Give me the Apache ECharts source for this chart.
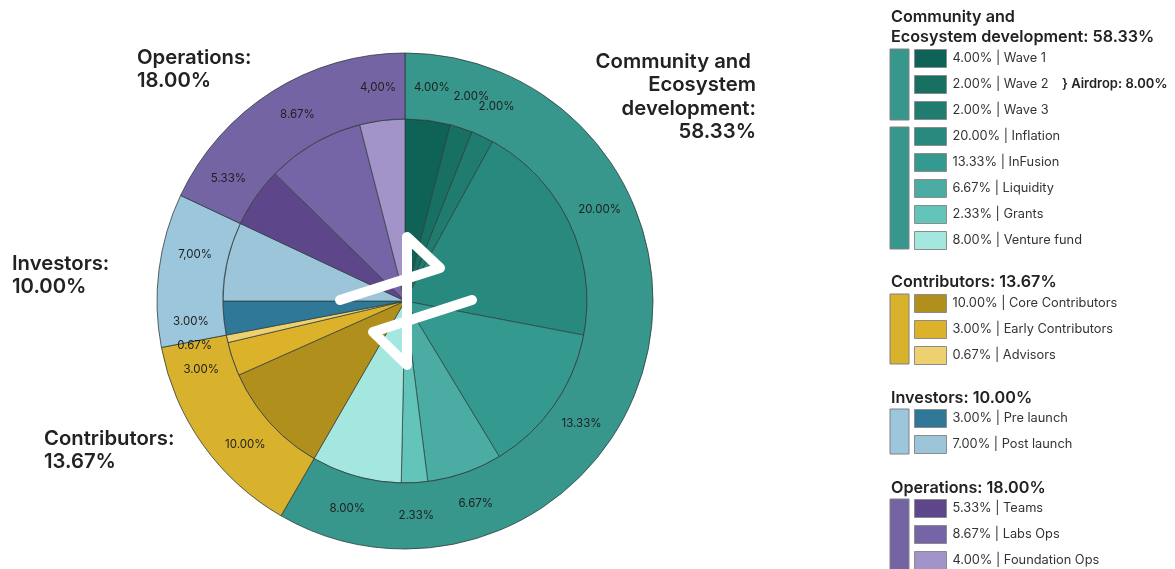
<!DOCTYPE html>
<html>
<head>
<meta charset="utf-8">
<script src="https://cdn.jsdelivr.net/npm/echarts@6/dist/echarts.min.js"></script>
<style>
  html, body { margin: 0; padding: 0; background: #fff; }
  #main { width: 1175px; height: 569px; }
</style>
</head>
<body>
<div id="main"></div>
<script>
// groups (outer ring)
var groupNames = ['Community and Ecosystem development', 'Contributors', 'Investors', 'Operations'];
var groupBreaks = ['Community and \nEcosystem\ndevelopment', 'Contributors', 'Investors', 'Operations'];
var groupValues = [58.33, 13.67, 10.00, 18.00];
var groupColors = ['#37978d', '#d8b22c', '#9cc6db', '#7564a4'];

// sub items (inner pie)
var itemNames = ['Wave 1', 'Wave 2', 'Wave 3', 'Inflation', 'InFusion', 'Liquidity', 'Grants', 'Venture fund',
    'Core Contributors', 'Early Contributors', 'Advisors',
    'Pre launch', 'Post launch',
    'Teams', 'Labs Ops', 'Foundation Ops'];
var itemValues = [4.00, 2.00, 2.00, 20.00, 13.33, 6.67, 2.33, 8.00,
    10.00, 3.00, 0.67,
    3.00, 7.00,
    5.33, 8.67, 4.00];
var itemGroup = [0, 0, 0, 0, 0, 0, 0, 0, 1, 1, 1, 2, 2, 3, 3, 3];
// labels as printed on the ring
var sliceLabels = ['4.00%', '2.00%', '2.00%', '20.00%', '13.33%', '6.67%', '2.33%', '8.00%',
    '10.00%', '3.00%', '0.67%',
    '3.00%', '7,00%',
    '5.33%', '8.67%', '4,00%'];
var itemColors = ['#0f6356', '#187062', '#1f7c6e', '#288a7e', '#349a90', '#4aaca3', '#63c4ba', '#a4e7df',
    '#b08f1d', '#dcb22b', '#edd170',
    '#2f7898', '#9cc5da',
    '#5e468a', '#7665a6', '#a294c9'];

var CX = 405, CY = 301;
var R_IN = 182, R_OUT = 248;

// outer label placement [x, y, align]
var outerLabelPos = [[756, 50, 'right'], [44, 427, 'left'], [12, 252, 'left'], [137, 46, 'left']];

var echarts;
var myChart = echarts.init(document.getElementById('main'));

var innerData = [];
var ringData = [];
for (var i = 0; i < itemNames.length; i++) {
    innerData.push({ name: itemNames[i], value: itemValues[i], itemStyle: { color: itemColors[i] } });
    ringData.push({ name: 'lbl_' + i, value: itemValues[i] });
}
var outerData = [];
for (var g = 0; g < groupNames.length; g++) {
    outerData.push({ name: groupNames[g], value: groupValues[g], itemStyle: { color: groupColors[g] } });
}

function legendFor(group, top) {
    var names = [];
    for (var k = 0; k < itemNames.length; k++) {
        if (itemGroup[k] === group) names.push(itemNames[k]);
    }
    return {
        data: names,
        orient: 'vertical',
        left: 914,
        top: top,
        height: 240,
        padding: 0,
        icon: 'rect',
        itemWidth: 32,
        itemHeight: 18,
        itemGap: 7,
        selectedMode: false,
        itemStyle: { borderColor: '#8c8c8c', borderWidth: 1 },
        textStyle: { fontFamily: 'Inter', fontSize: 12.8, color: '#333', padding: [0, 0, 0, 1] },
        formatter: function (name) {
            var idx = itemNames.indexOf(name);
            return itemValues[idx].toFixed(2) + '% | ' + name;
        }
    };
}

var graphics = [];
// center logo
graphics.push({
    type: 'polyline',
    z: 100,
    shape: { points: [[340, 300], [440, 268], [407, 237], [407, 365], [373, 332], [472, 300]] },
    style: { stroke: '#ffffff', lineWidth: 10, lineCap: 'round', lineJoin: 'round', fill: null }
});
// legend group headers
var headerY = [27, 281, 397, 487];
for (var h = 0; h < groupNames.length; h++) {
    var txt = (h === 0 ? 'Community and\nEcosystem development' : groupNames[h]) + ': ' + groupValues[h].toFixed(2) + '%';
    graphics.push({
        type: 'text', left: 891, top: headerY[h] - (h === 0 ? 20 : 9),
        style: { text: txt, font: '600 16.2px Inter', fill: '#222', lineHeight: 20 }
    });
}
// legend group bars
var bars = [[49, 71, 0], [127, 122, 0], [294, 70, 1], [409, 45, 2], [499, 80, 3]];
bars.forEach(function (b) {
    graphics.push({
        type: 'rect', shape: { x: 890, y: b[0], width: 19, height: b[1] },
        style: { fill: groupColors[b[2]], stroke: '#808080', lineWidth: 1 }
    });
});
graphics.push({
    type: 'text', left: 1062, top: 78,
    style: { text: '} Airdrop: ' + (itemValues[0] + itemValues[1] + itemValues[2]).toFixed(2) + '%', font: '600 13px Inter', fill: '#222' }
});

var option = {
    backgroundColor: '#ffffff',
    animation: false,
    legend: [legendFor(0, 49), legendFor(1, 294), legendFor(2, 409), legendFor(3, 499)],
    graphic: graphics,
    series: [
        {
            name: 'items',
            type: 'pie',
            center: [CX, CY],
            radius: [0, R_IN],
            startAngle: 90,
            label: { show: false },
            labelLine: { show: false },
            itemStyle: { borderColor: '#2b3b39', borderWidth: 0.7 },
            emphasis: { disabled: true },
            data: innerData
        },
        {
            name: 'groups',
            type: 'pie',
            center: [CX, CY],
            radius: [R_IN, R_OUT],
            startAngle: 90,
            itemStyle: { borderColor: '#2f3d3c', borderWidth: 0.8 },
            emphasis: { disabled: true },
            labelLine: { show: false },
            label: {
                show: true,
                position: 'outside',
                fontFamily: 'Inter',
                fontWeight: 600,
                fontSize: 20.3,
                lineHeight: 23.5,
                color: '#222',
                formatter: function (p) {
                    return groupBreaks[p.dataIndex] + ':\n' + p.value.toFixed(2) + '%';
                }
            },
            labelLayout: function (p) {
                var pos = outerLabelPos[p.dataIndex];
                return { x: pos[0], y: pos[1], align: pos[2], verticalAlign: 'top', hideOverlap: false };
            },
            data: outerData
        },
        {
            name: 'ringLabels',
            type: 'pie',
            center: [CX, CY],
            radius: [R_IN, R_OUT - 6],
            startAngle: 90,
            silent: true,
            z: 5,
            itemStyle: { color: 'rgba(0,0,0,0)' },
            emphasis: { disabled: true },
            labelLine: { show: false },
            label: {
                show: true,
                position: 'inside',
                fontFamily: 'Inter',
                fontSize: 11.5,
                color: '#1e1e1e',
                formatter: function (p) { return sliceLabels[p.dataIndex]; }
            },
            labelLayout: { hideOverlap: false, moveOverlap: null },
            data: ringData
        }
    ]
};
myChart.setOption(option);
</script>
</body>
</html>
